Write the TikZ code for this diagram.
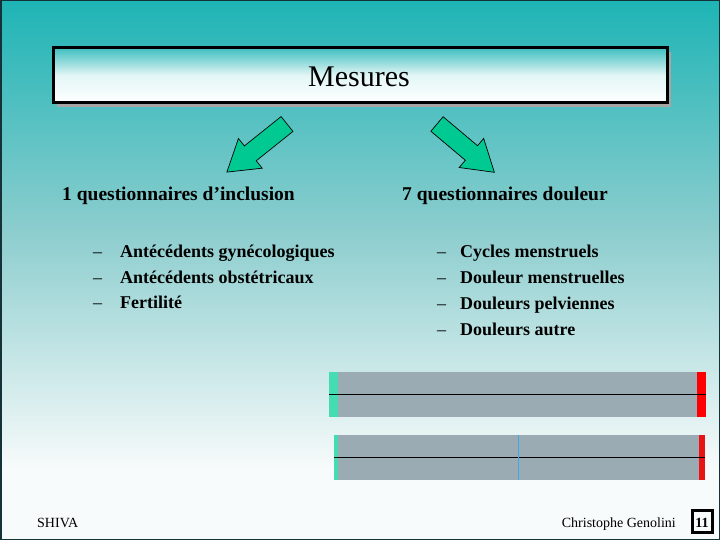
\documentclass[tikz,border=0pt]{standalone}
\usepackage{fontspec}
\setmainfont{Liberation Serif}
\definecolor{tealtop}{RGB}{30,180,181}
\definecolor{tealmid}{RGB}{140,205,206}
\definecolor{bgbottom}{RGB}{248,251,251}
\definecolor{arrowgreen}{RGB}{0,202,146}
\definecolor{bargray}{RGB}{154,171,180}
\definecolor{bargreen}{RGB}{70,220,178}
\definecolor{barred}{RGB}{255,0,0}
\definecolor{barred2}{RGB}{232,20,20}
\definecolor{barblue}{RGB}{60,170,230}
\definecolor{frame}{RGB}{20,50,55}
\tikzset{
  heading/.style={anchor=base west, inner sep=0pt, font=\fontsize{19.5}{22}\selectfont\bfseries},
  item/.style={anchor=base west, inner sep=0pt, font=\fontsize{18}{21}\selectfont\bfseries},
  dashmark/.style={anchor=base west, inner sep=0pt, font=\fontsize{18}{21}\selectfont},
  footer/.style={anchor=base west, inner sep=0pt, font=\fontsize{14}{16}\selectfont},
  blockarrow/.style={fill=arrowgreen, draw=black, line width=0.7pt, line join=miter},
}
\newcommand{\blockarr}[3]{%
  \begin{scope}[shift={#1}, rotate=#2]
    \draw[blockarrow] (0,-9.5) -- (#3-30,-9.5) -- (#3-30,-19) -- (#3,0) -- (#3-30,19) -- (#3-30,9.5) -- (0,9.5) -- cycle;
  \end{scope}}
\begin{document}
\begin{tikzpicture}[x=1pt,y=-1pt]
\useasboundingbox (0,0) rectangle (720,540);
% background
\fill[bgbottom] (0,0) rectangle (720,540);
\shade[top color=tealtop, bottom color=tealmid] (0,0) rectangle (720,230);
\shade[top color=tealmid, bottom color=bgbottom] (0,230) rectangle (720,470);
\draw[frame, line width=1.5pt] (0.75,0.75) rectangle (719.25,539.25);
% title box
\fill[gray!70] (57,52) rectangle (671,107);
\shade[top color=tealtop!85!white, bottom color=white, middle color=white!88!tealtop] (53,48) rectangle (667,103);
\draw[black, line width=3pt] (53,48) rectangle (667,103);
\node[anchor=base, inner sep=0pt, font=\fontsize{30}{34}\selectfont] (title) at (359,87) {Mesures};
% arrows
\blockarr{(287,124)}{218.66}{77}
\blockarr{(437,124)}{-40.1}{75}
% headings
\node[heading] (h1) at (62,201) {1 questionnaires d’inclusion};
\node[heading] (h2) at (402,201) {7 questionnaires douleur};
% left items
\node[dashmark] (d1) at (93,257) {–};
\node[item] (l1) at (120,257) {Antécédents gynécologiques};
\node[dashmark] (d2) at (93,283) {–};
\node[item] (l2) at (120,283) {Antécédents obstétricaux};
\node[dashmark] (d3) at (93,308) {–};
\node[item] (l3) at (120,308) {Fertilité};
% right items
\node[dashmark] (e1) at (437,257) {–};
\node[item] (r1) at (460,257) {Cycles menstruels};
\node[dashmark] (e2) at (437,283) {–};
\node[item] (r2) at (460,283) {Douleur menstruelles};
\node[dashmark] (e3) at (437,309) {–};
\node[item] (r3) at (460,309) {Douleurs pelviennes};
\node[dashmark] (e4) at (437,335) {–};
\node[item] (r4) at (460,335) {Douleurs autre};
% bar 1
\fill[bargreen] (329,372) rectangle (338,416.5);
\fill[bargray] (338,372) rectangle (697,416.5);
\fill[barred] (697,372) rectangle (706,416.5);
\draw[black, line width=1pt] (329,394.5) -- (706,394.5);
% bar 2
\fill[bargreen] (334,435) rectangle (338,479.5);
\fill[bargray] (338,435) rectangle (699,479.5);
\fill[barred2] (699,435) rectangle (705,479.5);
\draw[black, line width=1pt] (334,457.5) -- (705,457.5);
\draw[barblue, line width=1pt] (518.5,435) -- (518.5,479.5);
% footer
\node[footer] (shiva) at (37,527) {SHIVA};
\node[footer, anchor=base east] (author) at (676,527) {Christophe Genolini};
\draw[black, line width=3pt] (692,510) rectangle (712,532);
\node[footer, anchor=base, font=\fontsize{14}{16}\selectfont\bfseries] (page) at (702,527) {11};
\end{tikzpicture}
\end{document}
